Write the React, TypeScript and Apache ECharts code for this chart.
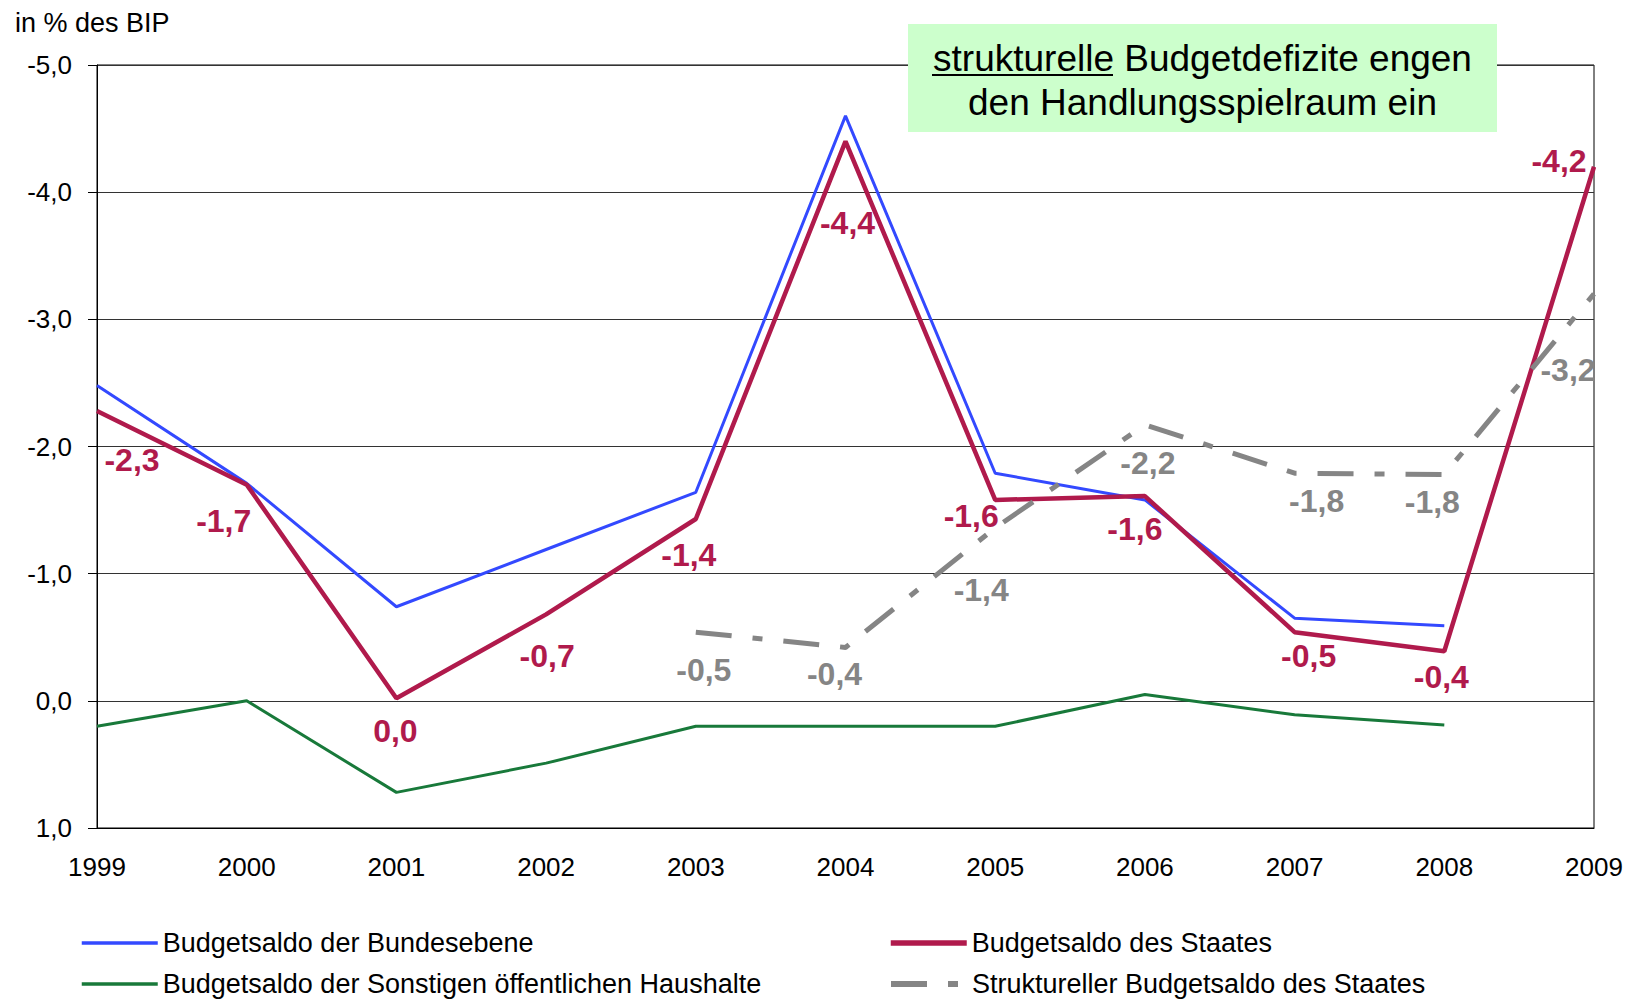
import React, { useEffect, useRef } from 'react';
import * as echarts from 'echarts';

const years = ['1999', '2000', '2001', '2002', '2003', '2004', '2005', '2006', '2007', '2008', '2009'];
const bundesebene = [-2.48, -1.71, -0.74, -1.19, -1.64, -4.6, -1.79, -1.58, -0.65, -0.59, null];
const staat = [-2.28, -1.7, -0.02, -0.68, -1.43, -4.4, -1.58, -1.61, -0.54, -0.39, -4.2];
const sonstige = [0.2, 0.0, 0.72, 0.49, 0.2, 0.2, 0.2, -0.05, 0.11, 0.19, null];
const strukturell = [null, null, null, null, -0.54, -0.42, -1.36, -2.17, -1.79, -1.78, -3.2];
const yTicks = { min: -5, max: 1, interval: 1 };

const seriesNames = [
  'Budgetsaldo der Bundesebene',
  'Budgetsaldo des Staates',
  'Budgetsaldo der Sonstigen öffentlichen Haushalte',
  'Struktureller Budgetsaldo des Staates',
];

// label placement (layout only)
const staatLabelOffsets = [[35, 49], [-23, 36], [-1, 33], [1, 42], [-7, 36], [2, 82], [-24, 16], [-10, 33], [14, 24], [-3, 26], [-35, -6]];
const strukLabelOffsets = [null, null, null, null, [8, 38], [-11, 27], [-14, 62], [3, 38], [22, 28], [-12, 28], [-26, 76]];

const FONT = '"Liberation Sans", Arial, sans-serif';
const fmt = (v: number) => (Math.abs(v) < 0.05 ? '0,0' : v.toFixed(1).replace('.', ','));

const BLUE = '#3349FF';
const RED = '#B01A4C';
const GREEN = '#18793A';
const GRAY = '#858585';
const DASH = [36, 21, 10, 21];

export default function App() {
  const ref = useRef<HTMLDivElement>(null);
  useEffect(() => {
    if (!ref.current) return;
    const chart = echarts.init(ref.current, undefined, { renderer: 'svg' });

    const mkLabeled = (vals: (number | null)[], offs: any[], color: string) =>
      vals.map((v, i) =>
        v === null
          ? '-'
          : {
              value: v,
              label: {
                show: true,
                position: 'inside',
                offset: offs[i] || [0, 0],
                formatter: () => fmt(v),
                color,
                fontSize: 32,
                fontWeight: 'bold',
                fontFamily: FONT,
              },
            }
      );

    const legendCommon = {
      itemWidth: 76,
      itemHeight: 14,
      itemGap: 0,
      padding: 0,
      selectedMode: false,
      itemStyle: { opacity: 0 },
      textStyle: { fontSize: 27, color: '#000', fontFamily: FONT, lineHeight: 30 },
    };

    chart.setOption({
      animation: false,
      backgroundColor: '#fff',
      textStyle: { fontFamily: FONT },
      grid: {
        left: 97,
        right: 34,
        top: 65,
        bottom: 173,
        show: true,
        borderColor: '#000',
        borderWidth: 1,
        backgroundColor: 'transparent',
      },
      legend: [
        { ...legendCommon, data: [seriesNames[0]], left: 80, top: 928, lineStyle: { width: 3.5, color: BLUE } },
        { ...legendCommon, data: [seriesNames[1]], left: 888, top: 928, lineStyle: { width: 5.5, color: RED } },
        { ...legendCommon, data: [seriesNames[2]], left: 80, top: 969, lineStyle: { width: 3.5, color: GREEN } },
        { ...legendCommon, data: [seriesNames[3]], left: 888, top: 969, lineStyle: { width: 6, color: GRAY, type: DASH } },
      ],
      xAxis: {
        type: 'category',
        data: years,
        boundaryGap: false,
        axisLine: { onZero: false, lineStyle: { color: '#000', width: 1 } },
        axisTick: { show: false },
        axisLabel: { color: '#000', fontSize: 26, fontFamily: FONT, margin: 26 },
        splitLine: { show: false },
      },
      yAxis: {
        type: 'value',
        inverse: true,
        min: yTicks.min,
        max: yTicks.max,
        interval: yTicks.interval,
        axisLine: { show: true, lineStyle: { color: '#000', width: 1 } },
        axisTick: { show: true, length: 9, lineStyle: { color: '#000' } },
        axisLabel: {
          color: '#000',
          fontSize: 26,
          fontFamily: FONT,
          margin: 25,
          formatter: (v: number) => fmt(v),
        },
        splitLine: { show: true, lineStyle: { color: '#333', width: 1 } },
      },
      graphic: [
        {
          type: 'text',
          left: 15,
          top: 9,
          style: { text: 'in % des BIP', fontSize: 27, fontFamily: FONT, fill: '#000' },
        },
        {
          type: 'rect',
          z: 100,
          shape: { x: 908, y: 24, width: 589, height: 108 },
          style: { fill: '#CCFFCC' },
        },
        {
          type: 'text',
          z: 101,
          x: 1202.5,
          y: 58,
          style: {
            text: 'strukturelle Budgetdefizite engen',
            fontSize: 37,
            fontFamily: FONT,
            fill: '#000',
            align: 'center',
            verticalAlign: 'middle',
          },
        },
        {
          type: 'line',
          z: 101,
          shape: { x1: 932, y1: 75, x2: 1113, y2: 75 },
          style: { stroke: '#000', lineWidth: 2 },
        },
        {
          type: 'text',
          z: 101,
          x: 1202.5,
          y: 102,
          style: {
            text: 'den Handlungsspielraum ein',
            fontSize: 37,
            fontFamily: FONT,
            fill: '#000',
            align: 'center',
            verticalAlign: 'middle',
          },
        },
      ],
      series: [
        {
          name: seriesNames[0],
          type: 'line',
          data: bundesebene.map((v) => (v === null ? '-' : v)),
          symbol: 'none',
          color: BLUE,
          lineStyle: { color: BLUE, width: 3 },
          z: 2,
        },
        {
          name: seriesNames[1],
          type: 'line',
          data: mkLabeled(staat, staatLabelOffsets, RED),
          symbol: 'circle',
          symbolSize: 0.1,
          showSymbol: true,
          itemStyle: { color: 'rgba(0,0,0,0)' },
          color: RED,
          lineStyle: { color: RED, width: 4.5 },
          z: 3,
        },
        {
          name: seriesNames[2],
          type: 'line',
          data: sonstige.map((v) => (v === null ? '-' : v)),
          symbol: 'none',
          color: GREEN,
          lineStyle: { color: GREEN, width: 3 },
          z: 2,
        },
        {
          name: seriesNames[3],
          type: 'line',
          data: mkLabeled(strukturell, strukLabelOffsets, GRAY),
          symbol: 'circle',
          symbolSize: 0.1,
          showSymbol: true,
          itemStyle: { color: 'rgba(0,0,0,0)' },
          color: GRAY,
          lineStyle: { color: GRAY, width: 5, type: DASH },
          z: 4,
        },
      ],
    });
    return () => chart.dispose();
  }, []);

  return (
    <div
      ref={ref}
      style={{ position: 'fixed', left: 0, top: 0, width: 1628, height: 1001, background: '#fff' }}
    />
  );
}
